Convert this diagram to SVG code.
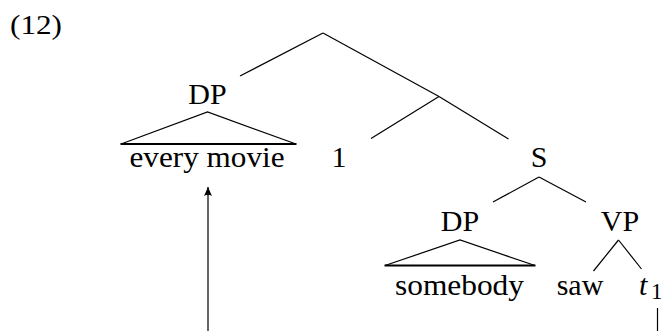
<svg xmlns="http://www.w3.org/2000/svg" width="666" height="331" viewBox="0 0 666 331">
  <style>
    .lbl { font-family: "Liberation Serif", "Times New Roman", serif; font-size: 30px; fill: #000; }
    .mid { text-anchor: middle; }
    .edge { stroke: #000; stroke-width: 1.2; fill: none; stroke-linecap: butt; }
    .tri { stroke: #000; stroke-width: 1.2; fill: none; stroke-linejoin: miter; }
    .base { stroke: #000; stroke-width: 1.8; }
  </style>
  <defs>
    <marker id="arrowhead" viewBox="0 0 10 10" refX="10" refY="5" markerWidth="9" markerHeight="9" markerUnits="userSpaceOnUse" orient="auto">
      <path d="M0,0.6 L10,5 L0,9.4 Q3,5 0,0.6 Z" fill="#000"/>
    </marker>
  </defs>
  <rect width="666" height="331" fill="#fff"/>

  <!-- example number -->
  <text id="ex-num" x="10" y="34" style="font-family: 'Liberation Serif', serif; font-size: 27px; font-variant-numeric: oldstyle-nums;" textLength="52" lengthAdjust="spacingAndGlyphs">(12)</text>

  <!-- tree branches -->
  <g id="connectors">
    <line class="edge" x1="323" y1="33" x2="240" y2="76"/>
    <line class="edge" x1="323" y1="33" x2="439" y2="96.5"/>
    <line class="edge" x1="439" y1="96.5" x2="371" y2="138.5"/>
    <line class="edge" x1="439" y1="96.5" x2="508.5" y2="139"/>
    <line class="edge" x1="539" y1="177" x2="493" y2="202"/>
    <line class="edge" x1="539" y1="177" x2="586" y2="202"/>
    <line class="edge" x1="618.5" y1="240" x2="593.5" y2="271"/>
    <line class="edge" x1="618.5" y1="240" x2="641.5" y2="269"/>
    <!-- movement: trace up to the moved DP -->
    <line class="edge" x1="657.5" y1="308" x2="657.5" y2="331"/>
    <line class="edge" x1="208" y1="331" x2="208" y2="187" marker-end="url(#arrowhead)"/>
  </g>

  <!-- upper DP with its triangle -->
  <g id="dp-obj">
    <text class="lbl mid" x="207.5" y="104">DP</text>
    <path class="tri" d="M121,144 L207.5,112 L296,144"/>
    <line class="base" x1="120.5" y1="144" x2="296.5" y2="144"/>
    <text class="lbl" x="129.5" y="166.5" textLength="155" lengthAdjust="spacingAndGlyphs">every movie</text>
  </g>

  <g id="binder">
    <text class="lbl mid" x="339" y="166.5">1</text>
  </g>

  <g id="s">
    <text class="lbl mid" x="539" y="167">S</text>
  </g>

  <!-- subject DP with its triangle -->
  <g id="dp-subj">
    <text class="lbl mid" x="460" y="231">DP</text>
    <path class="tri" d="M385,265.5 L460,240 L535,265.5"/>
    <line class="base" x1="384.5" y1="265.5" x2="535.5" y2="265.5"/>
    <text class="lbl" x="395" y="295" textLength="129" lengthAdjust="spacingAndGlyphs">somebody</text>
  </g>

  <g id="vp">
    <text class="lbl mid" x="620" y="231">VP</text>
  </g>

  <g id="saw">
    <text class="lbl mid" x="580" y="295">saw</text>
  </g>

  <g id="trace">
    <text class="lbl" x="639" y="295" style="font-style: italic;">t</text>
    <text class="lbl" x="651" y="299" style="font-size: 23px;">1</text>
  </g>
</svg>
